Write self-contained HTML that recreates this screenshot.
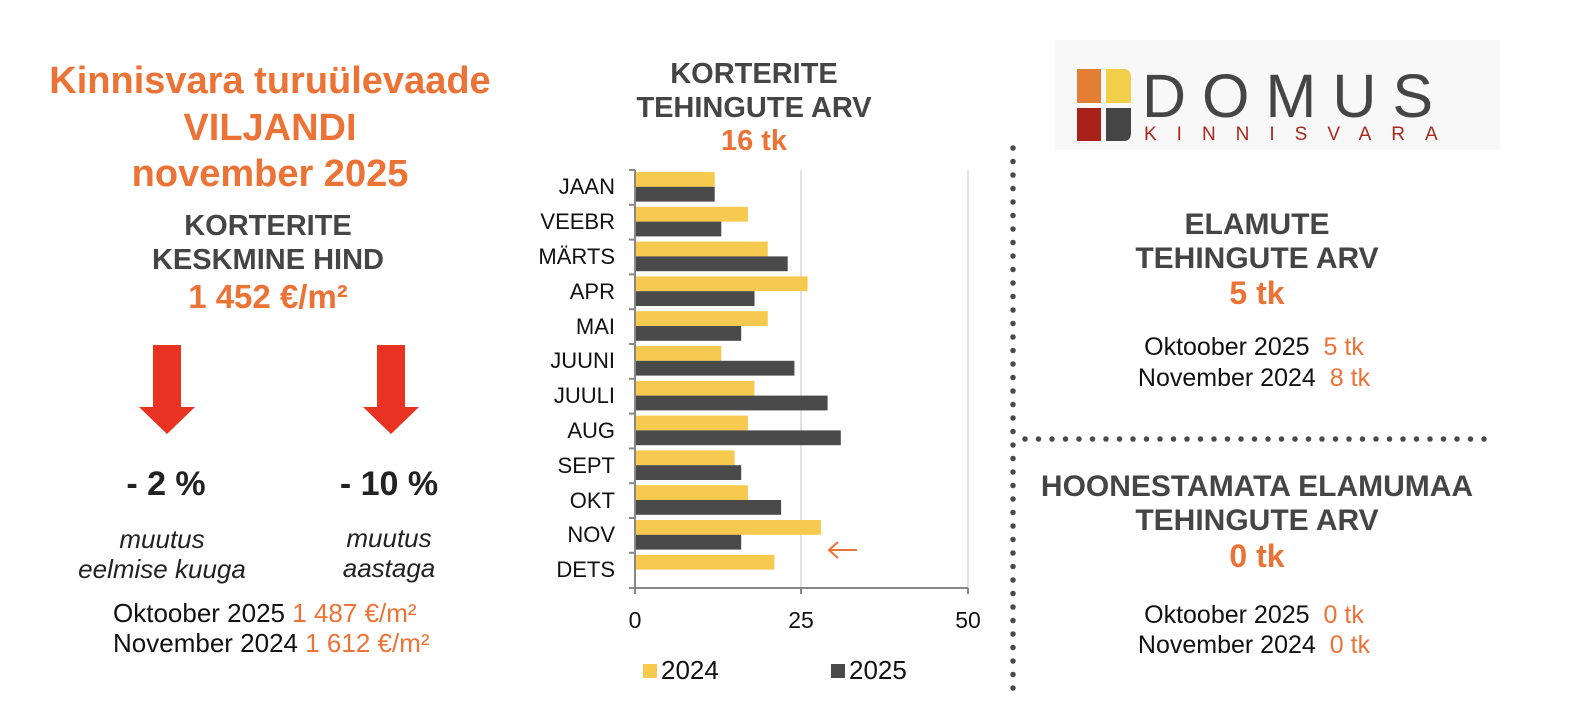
<!DOCTYPE html>
<html><head><meta charset="utf-8"><style>
html,body{margin:0;padding:0;background:#fff;}
svg{display:block;font-family:"Liberation Sans",Arial,sans-serif;}
</style></head><body>
<svg width="1596" height="704" viewBox="0 0 1596 704" xmlns="http://www.w3.org/2000/svg">
<!-- left panel -->
<g font-weight="bold" text-anchor="middle" fill="#ec7236">
<text x="270" y="93" font-size="38">Kinnisvara turuülevaade</text>
<text x="270" y="140" font-size="38">VILJANDI</text>
<text x="270" y="186" font-size="38">november 2025</text>
</g>
<g font-weight="bold" text-anchor="middle" fill="#454545" font-size="29">
<text x="268" y="235">KORTERITE</text>
<text x="268" y="269">KESKMINE HIND</text>
</g>
<text x="268" y="308" font-weight="bold" text-anchor="middle" fill="#ec7236" font-size="33">1 452 €/m²</text>
<polygon points="153,345 181,345 181,407 195,407 167,434 139,407 153,407" fill="#e83323"/>
<polygon points="377,345 405,345 405,407 419,407 391,434 363,407 377,407" fill="#e83323"/>
<g font-weight="bold" text-anchor="middle" fill="#222" font-size="34">
<text x="166" y="495">- 2 %</text>
<text x="389" y="495">- 10 %</text>
</g>
<g font-style="italic" text-anchor="middle" fill="#222" font-size="26">
<text x="162" y="548">muutus</text>
<text x="162" y="578">eelmise kuuga</text>
<text x="389" y="547">muutus</text>
<text x="389" y="577">aastaga</text>
</g>
<g font-size="26" fill="#111">
<text x="113" y="622">Oktoober 2025 <tspan fill="#ec7236">1 487 €/m²</tspan></text>
<text x="113" y="652">November 2024 <tspan fill="#ec7236">1 612 €/m²</tspan></text>
</g>
<!-- chart title -->
<g font-weight="bold" text-anchor="middle" fill="#454545" font-size="29">
<text x="754" y="83">KORTERITE</text>
<text x="754" y="117">TEHINGUTE ARV</text>
</g>
<text x="754" y="150" font-weight="bold" text-anchor="middle" fill="#ec7236" font-size="29">16 tk</text>
<!-- chart -->
<line x1="801" y1="170" x2="801" y2="588" stroke="#d9d9d9" stroke-width="1.5"/>
<line x1="968" y1="170" x2="968" y2="588" stroke="#d9d9d9" stroke-width="1.5"/>
<g fill="#f6c94f">
<rect x="635" y="172" width="79.7" height="14.8"/>
<rect x="635" y="206.8" width="112.9" height="14.8"/>
<rect x="635" y="241.6" width="132.8" height="14.8"/>
<rect x="635" y="276.4" width="172.6" height="14.8"/>
<rect x="635" y="311.2" width="132.8" height="14.8"/>
<rect x="635" y="346" width="86.3" height="14.8"/>
<rect x="635" y="380.8" width="119.5" height="14.8"/>
<rect x="635" y="415.6" width="112.9" height="14.8"/>
<rect x="635" y="450.4" width="99.6" height="14.8"/>
<rect x="635" y="485.2" width="112.9" height="14.8"/>
<rect x="635" y="520" width="185.9" height="14.8"/>
<rect x="635" y="554.8" width="139.4" height="14.8"/>
</g>
<g fill="#4a4a4a">
<rect x="635" y="186.8" width="79.7" height="14.8"/>
<rect x="635" y="221.6" width="86.3" height="14.8"/>
<rect x="635" y="256.4" width="152.7" height="14.8"/>
<rect x="635" y="291.2" width="119.5" height="14.8"/>
<rect x="635" y="326" width="106.2" height="14.8"/>
<rect x="635" y="360.8" width="159.4" height="14.8"/>
<rect x="635" y="395.6" width="192.6" height="14.8"/>
<rect x="635" y="430.4" width="205.8" height="14.8"/>
<rect x="635" y="465.2" width="106.2" height="14.8"/>
<rect x="635" y="500" width="146.1" height="14.8"/>
<rect x="635" y="534.8" width="106.2" height="14.8"/>
</g>
<g stroke="#888" stroke-width="2" fill="none">
<line x1="635" y1="170" x2="635" y2="594"/>
<line x1="629" y1="588" x2="968" y2="588"/>
<line x1="801" y1="588" x2="801" y2="594"/>
<line x1="968" y1="588" x2="968" y2="594"/>
<line x1="629" y1="170" x2="635" y2="170"/>
<line x1="629" y1="204.8" x2="635" y2="204.8"/>
<line x1="629" y1="239.6" x2="635" y2="239.6"/>
<line x1="629" y1="274.4" x2="635" y2="274.4"/>
<line x1="629" y1="309.2" x2="635" y2="309.2"/>
<line x1="629" y1="344" x2="635" y2="344"/>
<line x1="629" y1="378.8" x2="635" y2="378.8"/>
<line x1="629" y1="413.6" x2="635" y2="413.6"/>
<line x1="629" y1="448.4" x2="635" y2="448.4"/>
<line x1="629" y1="483.2" x2="635" y2="483.2"/>
<line x1="629" y1="518" x2="635" y2="518"/>
<line x1="629" y1="552.8" x2="635" y2="552.8"/>
</g>
<g font-size="22" text-anchor="end" fill="#111">
<text x="615" y="194">JAAN</text>
<text x="615" y="229">VEEBR</text>
<text x="615" y="264">MÄRTS</text>
<text x="615" y="299">APR</text>
<text x="615" y="334">MAI</text>
<text x="615" y="368">JUUNI</text>
<text x="615" y="403">JUULI</text>
<text x="615" y="438">AUG</text>
<text x="615" y="473">SEPT</text>
<text x="615" y="508">OKT</text>
<text x="615" y="542">NOV</text>
<text x="615" y="577">DETS</text>
</g>
<g font-size="23" text-anchor="middle" fill="#111">
<text x="635" y="628">0</text>
<text x="801" y="628">25</text>
<text x="968" y="628">50</text>
</g>
<g stroke="#ec7236" stroke-width="2" fill="none">
<line x1="829" y1="550" x2="857" y2="550"/>
<polyline points="838,542 829,550 838,558"/>
</g>
<rect x="643" y="664" width="14" height="14" fill="#f6c94f"/>
<text x="661" y="679" font-size="26" fill="#111">2024</text>
<rect x="831" y="664" width="14" height="14" fill="#4a4a4a"/>
<text x="849" y="679" font-size="26" fill="#111">2025</text>
<!-- logo -->
<rect x="1055" y="40" width="445" height="110" fill="#f8f8f8"/>
<rect x="1077" y="69" width="24" height="34" fill="#e27f34"/>
<path d="M1106 69 H1124 Q1131 69 1131 78 V103 H1106 Z" fill="#f2cf4b"/>
<rect x="1077" y="108" width="24" height="33" fill="#a8221b"/>
<path d="M1106 108 H1131 V132 Q1131 141 1124 141 H1106 Z" fill="#454545"/>
<text x="1142" y="117" font-size="61" fill="#454545" letter-spacing="16">DOMUS</text>
<text x="1144" y="140" font-size="19" fill="#a8281f" letter-spacing="20">KINNISVARA</text>
<!-- dotted dividers -->
<line x1="1013" y1="148" x2="1013" y2="692" stroke="#4a4a4a" stroke-width="5.5" stroke-linecap="round" stroke-dasharray="0 13.5"/>
<line x1="1025" y1="439" x2="1492" y2="439" stroke="#4a4a4a" stroke-width="5.5" stroke-linecap="round" stroke-dasharray="0 13.5"/>
<!-- right panel -->
<g font-weight="bold" text-anchor="middle" fill="#454545" font-size="30">
<text x="1257" y="234">ELAMUTE</text>
<text x="1257" y="268">TEHINGUTE ARV</text>
<text x="1257" y="496">HOONESTAMATA ELAMUMAA</text>
<text x="1257" y="530">TEHINGUTE ARV</text>
</g>
<g font-weight="bold" text-anchor="middle" fill="#ec7236" font-size="32">
<text x="1257" y="304">5 tk</text>
<text x="1257" y="567">0 tk</text>
</g>
<g font-size="25" fill="#111" text-anchor="middle">
<text x="1254" y="355">Oktoober 2025<tspan dx="14" fill="#ec7236">5 tk</tspan></text>
<text x="1254" y="386">November 2024<tspan dx="14" fill="#ec7236">8 tk</tspan></text>
<text x="1254" y="623">Oktoober 2025<tspan dx="14" fill="#ec7236">0 tk</tspan></text>
<text x="1254" y="653">November 2024<tspan dx="14" fill="#ec7236">0 tk</tspan></text>
</g>
</svg>
</body></html>
